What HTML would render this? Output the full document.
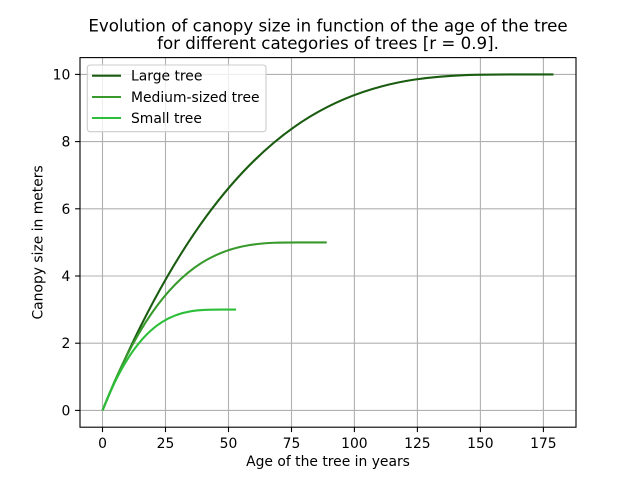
<!DOCTYPE html>
<html>
<head>
<meta charset="utf-8">
<style>
  html,body{margin:0;padding:0;background:#fff;}
  svg{display:block;}
  text{font-family:"DejaVu Sans","Liberation Sans",sans-serif;fill:#000;}
</style>
</head>
<body>
<svg width="640" height="480" viewBox="0 0 640 480" xmlns="http://www.w3.org/2000/svg">
  <rect x="0" y="0" width="640" height="480" fill="#fff"/>
  <!-- title -->
  <text x="328" y="31.5" font-size="16.67" text-anchor="middle">Evolution of canopy size in function of the age of the tree</text>
  <text x="328" y="49.2" font-size="16.67" text-anchor="middle">for different categories of trees [r = 0.9].</text>

  <!-- grid -->
  <g stroke="#b0b0b0" stroke-width="1.1" fill="none">
    <line x1="102.5" y1="57.6" x2="102.5" y2="427.2"/>
    <line x1="165.5" y1="57.6" x2="165.5" y2="427.2"/>
    <line x1="228.5" y1="57.6" x2="228.5" y2="427.2"/>
    <line x1="291.5" y1="57.6" x2="291.5" y2="427.2"/>
    <line x1="354.4" y1="57.6" x2="354.4" y2="427.2"/>
    <line x1="417.4" y1="57.6" x2="417.4" y2="427.2"/>
    <line x1="480.4" y1="57.6" x2="480.4" y2="427.2"/>
    <line x1="543.4" y1="57.6" x2="543.4" y2="427.2"/>
    <line x1="80" y1="410.4" x2="576" y2="410.4"/>
    <line x1="80" y1="343.2" x2="576" y2="343.2"/>
    <line x1="80" y1="276" x2="576" y2="276"/>
    <line x1="80" y1="208.8" x2="576" y2="208.8"/>
    <line x1="80" y1="141.6" x2="576" y2="141.6"/>
    <line x1="80" y1="74.4" x2="576" y2="74.4"/>
  </g>

  <!-- series -->
  <g transform="translate(102.545,410.4) scale(2.51905,-33.6)" fill="none" stroke-linecap="butt" stroke-linejoin="round">
    <path d="M0,0 C55,10 110,10 165,10 L179,10" stroke="#1a5c10" stroke-width="2.08" vector-effect="non-scaling-stroke"/>
    <path d="M0,0 C26,5 52,5 78,5 L89,5" stroke="#389a2c" stroke-width="2.08" vector-effect="non-scaling-stroke"/>
    <path d="M0,0 C15.667,3 31.333,3 47,3 L53,3" stroke="#2dbf3a" stroke-width="2.08" vector-effect="non-scaling-stroke"/>
  </g>

  <!-- spines -->
  <rect x="80" y="57.6" width="496" height="369.6" fill="none" stroke="#000" stroke-width="1.1"/>

  <!-- ticks -->
  <g stroke="#000" stroke-width="1.1">
    <line x1="102.5" y1="427.2" x2="102.5" y2="432.1"/>
    <line x1="165.5" y1="427.2" x2="165.5" y2="432.1"/>
    <line x1="228.5" y1="427.2" x2="228.5" y2="432.1"/>
    <line x1="291.5" y1="427.2" x2="291.5" y2="432.1"/>
    <line x1="354.4" y1="427.2" x2="354.4" y2="432.1"/>
    <line x1="417.4" y1="427.2" x2="417.4" y2="432.1"/>
    <line x1="480.4" y1="427.2" x2="480.4" y2="432.1"/>
    <line x1="543.4" y1="427.2" x2="543.4" y2="432.1"/>
    <line x1="75.1" y1="410.4" x2="80" y2="410.4"/>
    <line x1="75.1" y1="343.2" x2="80" y2="343.2"/>
    <line x1="75.1" y1="276" x2="80" y2="276"/>
    <line x1="75.1" y1="208.8" x2="80" y2="208.8"/>
    <line x1="75.1" y1="141.6" x2="80" y2="141.6"/>
    <line x1="75.1" y1="74.4" x2="80" y2="74.4"/>
  </g>

  <!-- x tick labels -->
  <g font-size="13.89" text-anchor="middle">
    <text x="102.5" y="448">0</text>
    <text x="165.5" y="448">25</text>
    <text x="228.5" y="448">50</text>
    <text x="291.5" y="448">75</text>
    <text x="354.4" y="448">100</text>
    <text x="417.4" y="448">125</text>
    <text x="480.4" y="448">150</text>
    <text x="543.4" y="448">175</text>
  </g>
  <!-- y tick labels -->
  <g font-size="13.89" text-anchor="end">
    <text x="70.3" y="415.4">0</text>
    <text x="70.3" y="348.2">2</text>
    <text x="70.3" y="281">4</text>
    <text x="70.3" y="213.8">6</text>
    <text x="70.3" y="146.6">8</text>
    <text x="70.3" y="79.4">10</text>
  </g>

  <!-- axis labels -->
  <text x="328" y="466" font-size="13.89" text-anchor="middle">Age of the tree in years</text>
  <text transform="translate(42.3,242.4) rotate(-90)" x="0" y="0" font-size="13.89" text-anchor="middle">Canopy size in meters</text>

  <!-- legend -->
  <rect x="87.3" y="65" width="178.7" height="66.7" rx="2.8" ry="2.8" fill="#fff" fill-opacity="0.8" stroke="#cccccc" stroke-width="1.1"/>
  <line x1="92" y1="75.7" x2="121" y2="75.7" stroke="#1a5c10" stroke-width="2.08"/>
  <line x1="92" y1="97" x2="121" y2="97" stroke="#389a2c" stroke-width="2.08"/>
  <line x1="92" y1="118" x2="121" y2="118" stroke="#2dbf3a" stroke-width="2.08"/>
  <g font-size="13.89">
    <text x="131" y="80.7">Large tree</text>
    <text x="131" y="101.8">Medium-sized tree</text>
    <text x="131" y="122.8">Small tree</text>
  </g>
</svg>
</body>
</html>
